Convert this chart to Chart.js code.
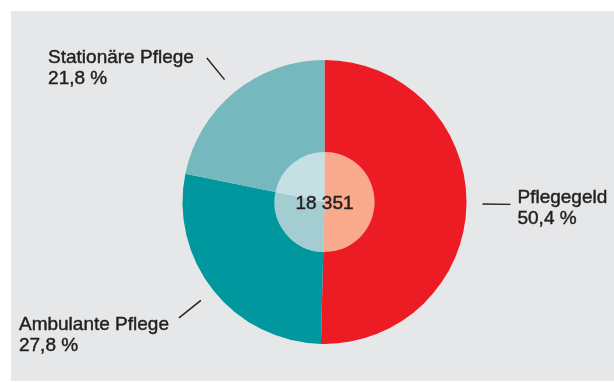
<!DOCTYPE html>
<html>
<head>
<meta charset="utf-8">
<script src="https://cdn.jsdelivr.net/npm/chart.js@4"></script>
<style>
  html, body { margin: 0; padding: 0; background: #fff; }
  #wrap { position: relative; width: 614px; height: 383px; }
  #bg { position: absolute; left: 11px; top: 11px; width: 603px; height: 370px; background: #e6e7e8; }
  #chart { position: absolute; left: 0; top: 0; }
</style>
</head>
<body>
<div id="wrap">
  <div id="bg"></div>
  <canvas id="chart" width="614" height="383"></canvas>
</div>
<script>
// clockwise from 12 o'clock
const categories = ["Pflegegeld", "Ambulante Pflege", "Stationäre Pflege"];
const shares = [50.4, 27.8, 21.8];
const total = 18351;

const outerColors = ["#ed1c24", "#00989e", "#75b8be"];
const innerColors = ["#f9a98c", "#a4cdd1", "#c5e0e2"];

// nudges for the label text relative to the end of each leader line
const labelNudge = [[7, -1], [-10, 12], [-13, 5]];

const textColor = "#231f20";

function pct(v) {
  return v.toFixed(1).replace(".", ",") + " %";
}

function groupThousands(n) {
  return String(n).replace(/\B(?=(\d{3})+(?!\d))/g, " ");
}

// slightly heavier than regular, like the medium weight in the print
function boldish(ctx, text, x, y) {
  ctx.fillText(text, x, y);
  ctx.strokeText(text, x, y);
}

const labelPlugin = {
  id: "labels",
  afterDraw(chart) {
    const ctx = chart.ctx;
    const arcs = chart.getDatasetMeta(0).data;
    ctx.save();
    ctx.strokeStyle = textColor;
    ctx.fillStyle = textColor;
    ctx.font = "19px 'Liberation Sans', Arial, sans-serif";
    ctx.textBaseline = "alphabetic";
    ctx.textAlign = "left";
    arcs.forEach((arc, i) => {
      const { x, y, startAngle, endAngle, outerRadius } = arc.getProps(["x", "y", "startAngle", "endAngle", "outerRadius"]);
      const mid = (startAngle + endAngle) / 2;
      const c = Math.cos(mid), s = Math.sin(mid);
      const x1 = x + c * (outerRadius + 16), y1 = y + s * (outerRadius + 16);
      const x2 = x + c * (outerRadius + 44), y2 = y + s * (outerRadius + 44);
      ctx.lineWidth = 1.4;
      ctx.beginPath();
      ctx.moveTo(x1, y1);
      ctx.lineTo(x2, y2);
      ctx.stroke();
      const [dx, dy] = labelNudge[i];
      let tx = x2 + dx;
      if (c < 0) tx -= ctx.measureText(categories[i]).width;
      ctx.lineWidth = 0.45;
      boldish(ctx, categories[i], tx, y2 + dy);
      boldish(ctx, pct(shares[i]), tx, y2 + dy + 21);
    });
    const a0 = arcs[0];
    ctx.textAlign = "center";
    ctx.font = "19px 'Liberation Sans', Arial, sans-serif";
    ctx.lineWidth = 0.45;
    boldish(ctx, groupThousands(total), a0.x, a0.y + 7);
    ctx.restore();
  }
};

new Chart(document.getElementById("chart"), {
  type: "pie",
  data: {
    labels: categories,
    datasets: [
      { data: shares, backgroundColor: outerColors, borderWidth: 0, weight: 92, hoverOffset: 0, offset: 0 },
      { data: shares, backgroundColor: innerColors, borderWidth: 0, weight: 50, hoverOffset: 0, offset: 0 },
    ],
  },
  options: {
    responsive: false,
    animation: false,
    events: [],
    layout: { padding: { top: 60, bottom: 39, left: 182.5, right: 147.5 } },
    plugins: { legend: { display: false }, tooltip: { enabled: false } },
  },
  plugins: [labelPlugin],
});
</script>
</body>
</html>
